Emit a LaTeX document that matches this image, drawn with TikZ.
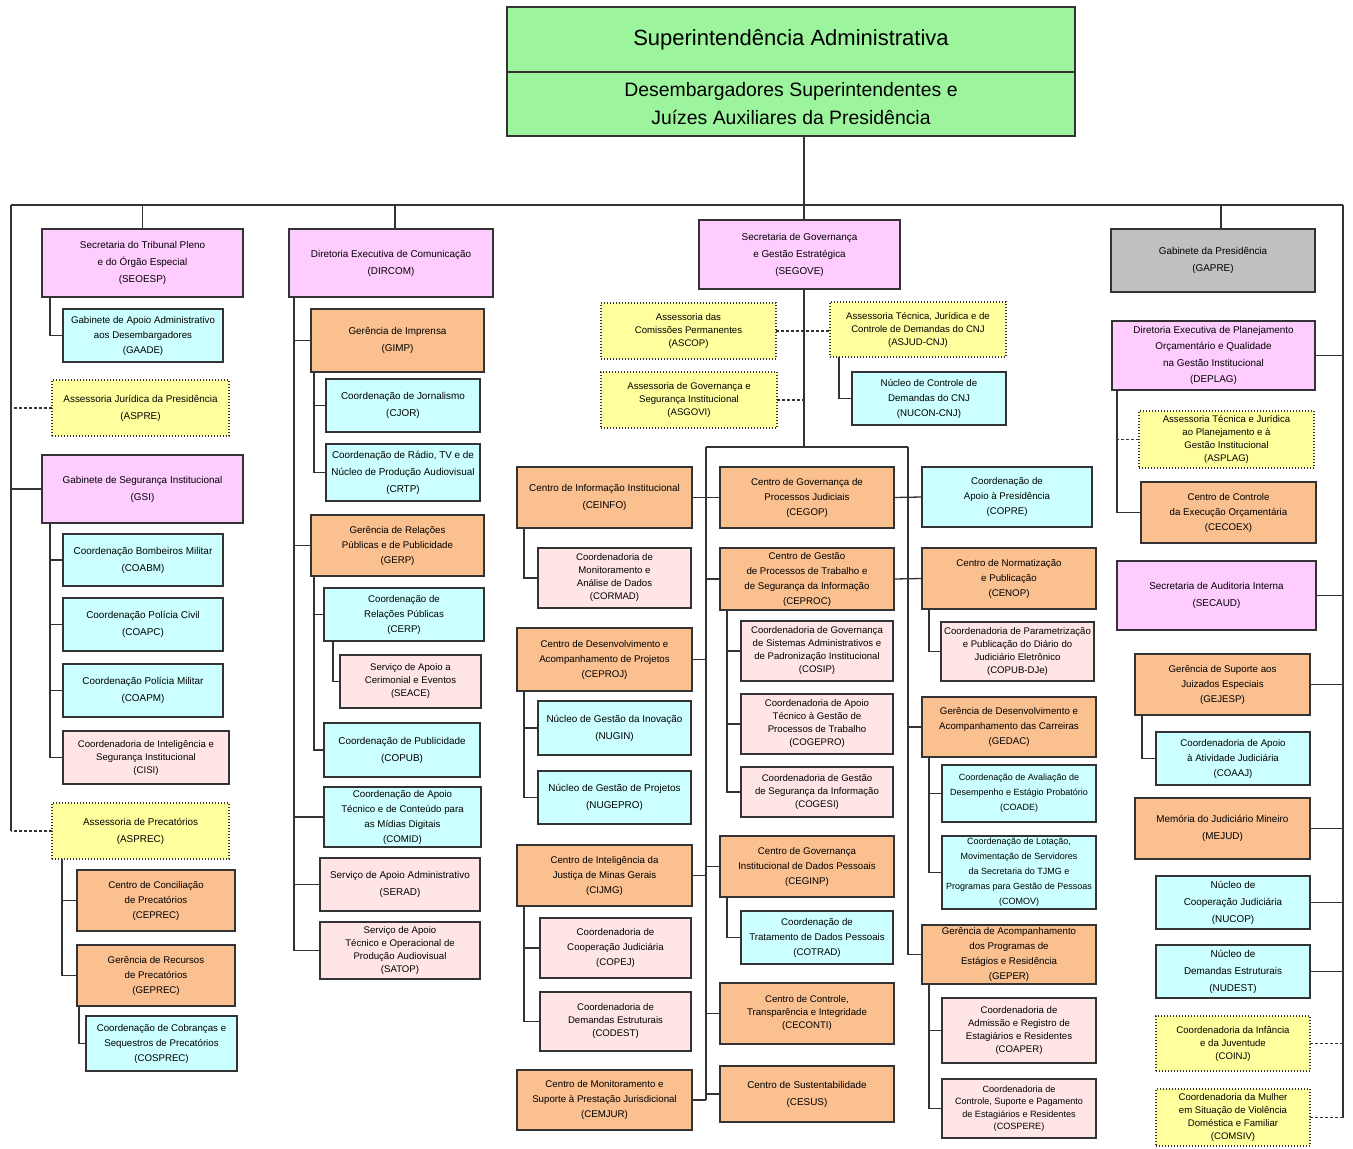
\documentclass[tikz,border=0pt]{standalone}
\usepackage{fontspec}
\setmainfont{Liberation Sans}
\definecolor{pkf}{HTML}{FFCCFF}
\definecolor{cyf}{HTML}{CCFFFF}
\definecolor{ogf}{HTML}{FAC090}
\definecolor{lpf}{HTML}{FFE5E5}
\definecolor{ylf}{HTML}{FFFF9E}
\definecolor{gyf}{HTML}{C0C0C0}
\definecolor{grf}{HTML}{9CF59C}
\newcommand\orgnode[7]{\node[#1, minimum width={#4-#2}, minimum height={#5-#3}] (#6) at ({(#2+#4)/2},{(#3+#5)/2}) {#7};}
\tikzset{
  base/.style={draw=black!80, line width=1.2pt, inner sep=0pt, outer sep=0pt, align=center, text=black, font=\fontsize{9.9}{17}\selectfont},
  pk/.style={base, fill=pkf},
  cy/.style={base, fill=cyf},
  og/.style={base, fill=ogf},
  lp/.style={base, fill=lpf},
  gy/.style={base, fill=gyf},
  gr/.style={base, fill=grf},
  yl/.style={base, fill=ylf, dash pattern=on 1pt off 2pt},
  tight/.style={font=\fontsize{9.6}{13}\selectfont},
  mid/.style={font=\fontsize{9.7}{15}\selectfont},
  small/.style={font=\fontsize{9}{15}\selectfont},
  conn/.style={draw=black!80, line width=1.3pt},
  dconn/.style={conn, dash pattern=on 3pt off 2pt},
}
\begin{document}
\begin{tikzpicture}[x=1pt,y=-1pt]
\useasboundingbox (0,0) rectangle (1353,1149);
\fill[white] (0,0) rectangle (1353,1149);
% title
\orgnode{gr, font=\fontsize{22}{26}\selectfont}{507}{7}{1075}{72}{title1}{\raisebox{-4pt}{Superintendência Administrativa}}
\orgnode{gr, font=\fontsize{19.4}{28}\selectfont}{507}{72}{1075}{136}{title2}{Desembargadores Superintendentes e\\Juízes Auxiliares da Presidência}
% column 1
\orgnode{pk}{42}{229}{243}{297}{SEOESP}{Secretaria do Tribunal Pleno\\e do Órgão Especial\\(SEOESP)}
\orgnode{cy, mid}{63}{309}{223}{362}{GAADE}{Gabinete de Apoio Administrativo\\aos Desembargadores\\(GAADE)}
\orgnode{yl}{52}{380}{229}{436}{ASPRE}{Assessoria Jurídica da Presidência\\(ASPRE)}
\orgnode{pk}{42}{455}{243}{523}{GSI}{Gabinete de Segurança Institucional\\(GSI)}
\orgnode{cy}{63}{534}{223}{586}{COABM}{Coordenação Bombeiros Militar\\(COABM)}
\orgnode{cy}{63}{598}{223}{651}{COAPC}{Coordenação Polícia Civil\\(COAPC)}
\orgnode{cy}{63}{664}{223}{717}{COAPM}{Coordenação Polícia Militar\\(COAPM)}
\orgnode{lp, tight}{63}{731}{229}{784}{CISI}{Coordenadoria de Inteligência e\\Segurança Institucional\\(CISI)}
\orgnode{yl}{52}{803}{229}{859}{ASPREC}{Assessoria de Precatórios\\(ASPREC)}
\orgnode{og, mid}{77}{870}{235}{931}{CEPREC}{Centro de Conciliação\\de Precatórios\\(CEPREC)}
\orgnode{og, mid}{77}{945}{235}{1006}{GEPREC}{Gerência de Recursos\\de Precatórios\\(GEPREC)}
\orgnode{cy, mid}{86}{1016}{237}{1071}{COSPREC}{Coordenação de Cobranças e\\Sequestros de Precatórios\\(COSPREC)}
% column 2
\orgnode{pk}{289}{229}{493}{297}{DIRCOM}{Diretoria Executiva de Comunicação\\(DIRCOM)}
\orgnode{og}{311}{309}{484}{372}{GIMP}{Gerência de Imprensa\\(GIMP)}
\orgnode{cy}{326}{379}{480}{432}{CJOR}{Coordenação de Jornalismo\\(CJOR)}
\orgnode{cy}{326}{444}{480}{501}{CRTP}{Coordenação de Rádio, TV e de\\Núcleo de Produção Audiovisual\\(CRTP)}
\orgnode{og, mid}{311}{515}{484}{576}{GERP}{Gerência de Relações\\Públicas e de Publicidade\\(GERP)}
\orgnode{cy, mid}{324}{588}{484}{641}{CERP}{Coordenação de\\Relações Públicas\\(CERP)}
\orgnode{lp, tight}{340}{655}{481}{708}{SEACE}{Serviço de Apoio a\\Cerimonial e Eventos\\(SEACE)}
\orgnode{cy}{324}{723}{480}{777}{COPUB}{Coordenação de Publicidade\\(COPUB)}
\orgnode{cy, mid}{324}{787}{481}{847}{COMID}{Coordenação de Apoio\\Técnico e de Conteúdo para\\as Mídias Digitais\\(COMID)}
\orgnode{lp}{320}{858}{480}{911}{SERAD}{Serviço de Apoio Administrativo\\(SERAD)}
\orgnode{lp, tight}{320}{922}{480}{979}{SATOP}{Serviço de Apoio\\Técnico e Operacional de\\Produção Audiovisual\\(SATOP)}
% center top
\orgnode{pk}{699}{220}{900}{289}{SEGOVE}{Secretaria de Governança\\e Gestão Estratégica\\(SEGOVE)}
\orgnode{yl, tight}{601}{303}{776}{359}{ASCOP}{Assessoria das\\Comissões Permanentes\\(ASCOP)}
\orgnode{yl, tight}{830}{302}{1006}{357}{ASJUD}{Assessoria Técnica, Jurídica e de\\Controle de Demandas do CNJ\\(ASJUD-CNJ)}
\orgnode{yl, tight}{601}{372}{777}{428}{ASGOVI}{Assessoria de Governança e\\Segurança Institucional\\(ASGOVI)}
\orgnode{cy, mid}{852}{372}{1006}{425}{NUCON}{Núcleo de Controle de\\Demandas do CNJ\\(NUCON-CNJ)}
% center left
\orgnode{og}{517}{467}{692}{528}{CEINFO}{Centro de Informação Institucional\\(CEINFO)}
\orgnode{lp, tight}{538}{548}{691}{608}{CORMAD}{Coordenadoria de\\Monitoramento e\\Análise de Dados\\(CORMAD)}
\orgnode{og, mid}{517}{628}{692}{691}{CEPROJ}{Centro de Desenvolvimento e\\Acompanhamento de Projetos\\(CEPROJ)}
\orgnode{cy}{538}{701}{691}{755}{NUGIN}{Núcleo de Gestão da Inovação\\(NUGIN)}
\orgnode{cy}{538}{771}{691}{824}{NUGEPRO}{Núcleo de Gestão de Projetos\\(NUGEPRO)}
\orgnode{og, mid}{517}{845}{692}{906}{CIJMG}{Centro de Inteligência da\\Justiça de Minas Gerais\\(CIJMG)}
\orgnode{lp, mid}{540}{918}{691}{978}{COPEJ}{Coordenadoria de\\Cooperação Judiciária\\(COPEJ)}
\orgnode{lp, tight}{540}{992}{691}{1051}{CODEST}{Coordenadoria de\\Demandas Estruturais\\(CODEST)}
\orgnode{og, mid}{517}{1070}{692}{1130}{CEMJUR}{Centro de Monitoramento e\\Suporte à Prestação Jurisdicional\\(CEMJUR)}
% center right
\orgnode{og, mid}{720}{467}{894}{528}{CEGOP}{Centro de Governança de\\Processos Judiciais\\(CEGOP)}
\orgnode{og, mid}{720}{548}{894}{610}{CEPROC}{Centro de Gestão\\de Processos de Trabalho e\\de Segurança da Informação\\(CEPROC)}
\orgnode{lp, tight}{741}{621}{893}{681}{COSIP}{Coordenadoria de Governança\\de Sistemas Administrativos e\\de Padronização Institucional\\(COSIP)}
\orgnode{lp, tight}{741}{694}{893}{754}{COGEPRO}{Coordenadoria de Apoio\\Técnico à Gestão de\\Processos de Trabalho\\(COGEPRO)}
\orgnode{lp, tight}{741}{767}{893}{817}{COGESI}{Coordenadoria de Gestão\\de Segurança da Informação\\(COGESI)}
\orgnode{og, mid}{720}{836}{894}{897}{CEGINP}{Centro de Governança\\Institucional de Dados Pessoais\\(CEGINP)}
\orgnode{cy, mid}{741}{911}{893}{964}{COTRAD}{Coordenação de\\Tratamento de Dados Pessoais\\(COTRAD)}
\orgnode{og, tight}{720}{983}{894}{1044}{CECONTI}{Centro de Controle,\\Transparência e Integridade\\(CECONTI)}
\orgnode{og}{720}{1066}{894}{1122}{CESUS}{Centro de Sustentabilidade\\(CESUS)}
% right-center column
\orgnode{cy, mid}{922}{467}{1092}{527}{COPRE}{Coordenação de\\Apoio à Presidência\\(COPRE)}
\orgnode{og, mid}{922}{548}{1096}{609}{CENOP}{Centro de Normatização\\e Publicação\\(CENOP)}
\orgnode{lp, tight}{941}{622}{1094}{681}{COPUBDJE}{Coordenadoria de Parametrização\\e Publicação do Diário do\\Judiciário Eletrônico\\(COPUB-DJe)}
\orgnode{og, mid}{922}{697}{1096}{757}{GEDAC}{Gerência de Desenvolvimento e\\Acompanhamento das Carreiras\\(GEDAC)}
\orgnode{cy, small}{942}{765}{1096}{822}{COADE}{Coordenação de Avaliação de\\Desempenho e Estágio Probatório\\(COADE)}
\orgnode{cy, small}{942}{836}{1096}{909}{COMOV}{Coordenação de Lotação,\\Movimentação de Servidores\\da Secretaria do TJMG e\\Programas para Gestão de Pessoas\\(COMOV)}
\orgnode{og, mid}{922}{925}{1096}{984}{GEPER}{Gerência de Acompanhamento\\dos Programas de\\Estágios e Residência\\(GEPER)}
\orgnode{lp, tight}{942}{998}{1096}{1063}{COAPER}{Coordenadoria de\\Admissão e Registro de\\Estagiários e Residentes\\(COAPER)}
\orgnode{lp, small, font=\fontsize{9.1}{12.5}\selectfont}{942}{1079}{1096}{1138}{COSPERE}{Coordenadoria de\\Controle, Suporte e Pagamento\\de Estagiários e Residentes\\(COSPERE)}
% right column
\orgnode{gy}{1111}{229}{1315}{292}{GAPRE}{Gabinete da Presidência\\(GAPRE)}
\orgnode{pk, font=\fontsize{9.9}{16.5}\selectfont}{1112}{321}{1315}{390}{DEPLAG}{Diretoria Executiva de Planejamento\\Orçamentário e Qualidade\\na Gestão Institucional\\(DEPLAG)}
\orgnode{yl, tight}{1139}{411}{1314}{468}{ASPLAG}{Assessoria Técnica e Jurídica\\ao Planejamento e à\\Gestão Institucional\\(ASPLAG)}
\orgnode{og, mid}{1141}{482}{1316}{543}{CECOEX}{Centro de Controle\\da Execução Orçamentária\\(CECOEX)}
\orgnode{pk}{1117}{561}{1316}{630}{SECAUD}{Secretaria de Auditoria Interna\\(SECAUD)}
\orgnode{og, mid}{1135}{654}{1310}{715}{GEJESP}{Gerência de Suporte aos\\Juizados Especiais\\(GEJESP)}
\orgnode{cy, mid}{1156}{732}{1310}{785}{COAAJ}{Coordenadoria de Apoio\\à Atividade Judiciária\\(COAAJ)}
\orgnode{og}{1135}{798}{1310}{859}{MEJUD}{Memória do Judiciário Mineiro\\(MEJUD)}
\orgnode{cy}{1156}{876}{1310}{929}{NUCOP}{Núcleo de\\Cooperação Judiciária\\(NUCOP)}
\orgnode{cy}{1156}{945}{1310}{998}{NUDEST}{Núcleo de\\Demandas Estruturais\\(NUDEST)}
\orgnode{yl, tight}{1156}{1016}{1310}{1071}{COINJ}{Coordenadoria da Infância\\e da Juventude\\(COINJ)}
\orgnode{yl, tight}{1156}{1089}{1310}{1146}{COMSIV}{Coordenadoria da Mulher\\em Situação de Violência\\Doméstica e Familiar\\(COMSIV)}
% coordinates
\coordinate (busL) at (11,205);
\coordinate (busR) at (1343,205);
\coordinate (cx) at (804,0);
\coordinate (hubL) at (706,447);
\coordinate (hubR) at (908,447);
\coordinate (gsiX) at ([xshift=8pt]GSI.south west);
\coordinate (asprecX) at ([xshift=10pt]ASPREC.south west);
\coordinate (dirX) at ([xshift=5pt]DIRCOM.south west);
\coordinate (gimpX) at ([xshift=3pt]GIMP.south west);
\coordinate (gerpX) at ([xshift=3pt]GERP.south west);
\coordinate (ceprocX) at ([xshift=7pt]CEPROC.south west);
\coordinate (ceprojX) at ([xshift=7pt]CEPROJ.south west);
\coordinate (cijmgX) at ([xshift=7pt]CIJMG.south west);
\coordinate (gedacX) at ([xshift=7pt]GEDAC.south west);
\coordinate (geperX) at ([xshift=7pt]GEPER.south west);
\coordinate (deplagX) at ([xshift=5pt]DEPLAG.south west);
% main bus
\draw[conn] (busL) -- (busR);
\draw[conn] (busL) -- (ASPREC.west -| busL);
\draw[conn] (busR) -- (COMSIV.east -| busR);
\draw[conn] (title2.south -| cx) -- (SEGOVE.north -| cx);
\draw[conn] (SEOESP.north) -- (SEOESP.north |- busL);
\draw[conn] ([xshift=4pt]DIRCOM.north) -- ([xshift=4pt]DIRCOM.north |- busL);
\draw[conn] ([xshift=8pt]GAPRE.north) -- ([xshift=8pt]GAPRE.north |- busL);
% column 1
\draw[conn] ([xshift=8pt]SEOESP.south west) |- (GAADE.west);
\draw[dconn] (ASPRE.west) -- (ASPRE.west -| busL);
\draw[conn] (GSI.west) -- (GSI.west -| busL);
\draw[conn] (gsiX) |- (CISI.west);
\foreach \n in {COABM,COAPC,COAPM} \draw[conn] (\n.west) -- (\n.west -| gsiX);
\draw[dconn] (ASPREC.west) -- (ASPREC.west -| busL);
\draw[conn] (asprecX) |- (GEPREC.west);
\draw[conn] (CEPREC.west) -- (CEPREC.west -| asprecX);
\draw[conn] ([xshift=2pt]GEPREC.south west) |- (COSPREC.west);
% column 2
\draw[conn] (dirX) |- (SATOP.west);
\foreach \n in {GIMP,GERP,COMID,SERAD} \draw[conn] (\n.west) -- (\n.west -| dirX);
\draw[conn] (gimpX) |- (CRTP.west);
\draw[conn] (CJOR.west) -- (CJOR.west -| gimpX);
\draw[conn] (gerpX) |- (COPUB.west);
\draw[conn] (CERP.west) -- (CERP.west -| gerpX);
\draw[conn] ([xshift=9pt]CERP.south west) |- (SEACE.west);
% center
\draw[conn] (SEGOVE.south -| cx) -- (hubL -| cx);
\draw[conn] (hubL) -- (hubR);
\draw[dconn] (ASCOP.east) -- (ASCOP.east -| ASJUD.west);
\draw[dconn] (ASGOVI.east) -- (ASGOVI.east -| cx);
\draw[conn] ([xshift=9pt]ASJUD.south west) |- (NUCON.west);
\draw[conn] (hubL) -- (CEMJUR.east -| hubL);
\draw[conn] (hubR) -- (GEPER.west -| hubR);
\draw[conn] (CEINFO.east) -- (CEGOP.west);
\draw[conn] (CEGOP.east) -- (COPRE.west);
\draw[conn] (CEPROC.west) -- (CEPROC.west -| hubL);
\draw[conn] (CEPROC.east) -- (CENOP.west);
\foreach \n in {CEPROJ,CIJMG,CEMJUR} \draw[conn] (\n.east) -- (\n.east -| hubL);
\foreach \n in {CEGINP,CECONTI,CESUS} \draw[conn] (\n.west) -- (\n.west -| hubL);
\foreach \n in {GEDAC,GEPER} \draw[conn] (\n.west) -- (\n.west -| hubR);
\draw[conn] ([xshift=7pt]CEINFO.south west) |- (CORMAD.west);
\draw[conn] (ceprojX) |- (NUGEPRO.west);
\draw[conn] (NUGIN.west) -- (NUGIN.west -| ceprojX);
\draw[conn] (cijmgX) |- (CODEST.west);
\draw[conn] (COPEJ.west) -- (COPEJ.west -| cijmgX);
\draw[conn] (ceprocX) |- (COGESI.west);
\foreach \n in {COSIP,COGEPRO} \draw[conn] (\n.west) -- (\n.west -| ceprocX);
\draw[conn] ([xshift=7pt]CEGINP.south west) |- (COTRAD.west);
\draw[conn] ([xshift=7pt]CENOP.south west) |- (COPUBDJE.west);
\draw[conn] (gedacX) |- (COMOV.west);
\draw[conn] (COADE.west) -- (COADE.west -| gedacX);
\draw[conn] (geperX) |- (COSPERE.west);
\draw[conn] (COAPER.west) -- (COAPER.west -| geperX);
% right column
\foreach \n in {DEPLAG,SECAUD,GEJESP,MEJUD,NUCOP,NUDEST} \draw[conn] (\n.east) -- (\n.east -| busR);
\foreach \n in {COINJ,COMSIV} \draw[dconn] (\n.east) -- (\n.east -| busR);
\draw[conn] (deplagX) |- (CECOEX.west);
\draw[dconn] (ASPLAG.west) -- (ASPLAG.west -| deplagX);
\draw[conn] ([xshift=7pt]GEJESP.south west) |- (COAAJ.west);
\end{tikzpicture}
\end{document}
